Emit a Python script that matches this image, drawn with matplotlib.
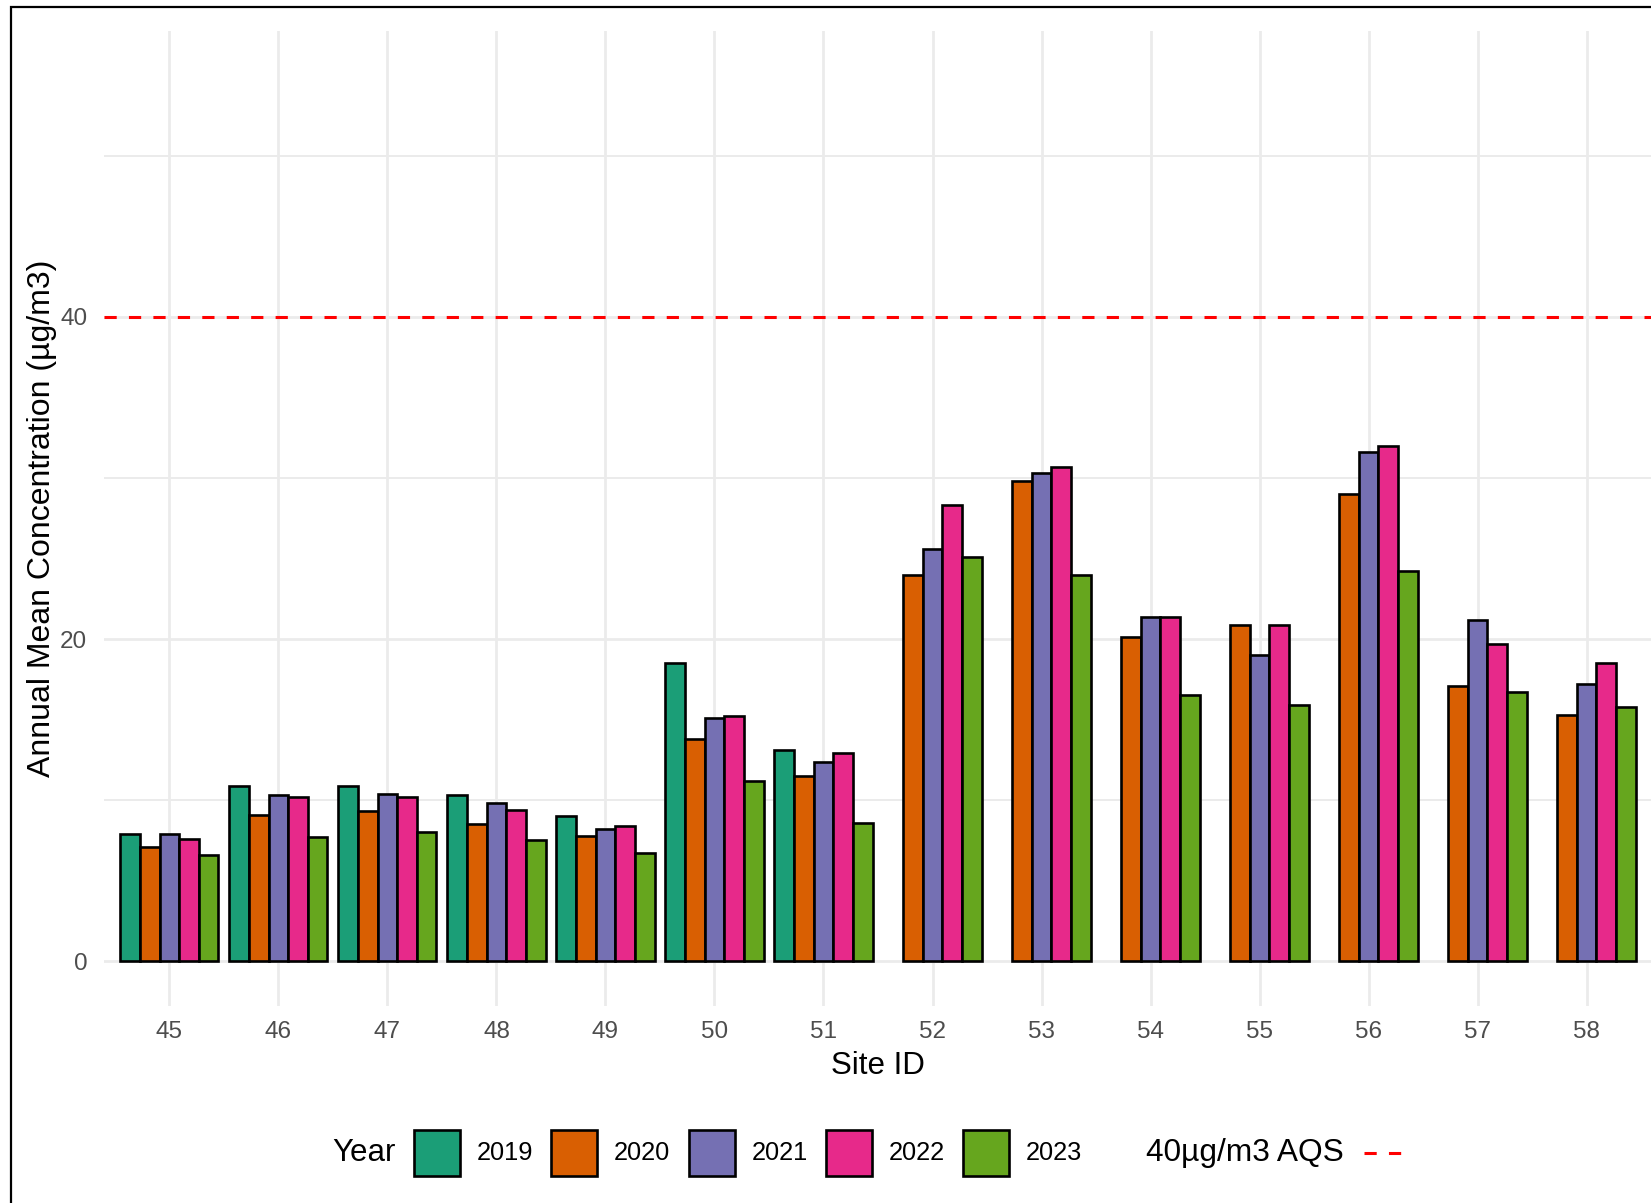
import numpy as np
import matplotlib
matplotlib.use("Agg")
import matplotlib.pyplot as plt
from matplotlib.patches import Rectangle
from matplotlib.lines import Line2D

plt.rcParams['font.family'] = ['Liberation Sans', 'DejaVu Sans']

# data
sites = ['45', '46', '47', '48', '49', '50', '51', '52', '53', '54', '55', '56', '57', '58']
years = ['2019', '2020', '2021', '2022', '2023']
nan = np.nan
v2019 = [7.9, 10.9, 10.9, 10.3, 9.0, 18.5, 13.1, nan, nan, nan, nan, nan, nan, nan]
v2020 = [7.1, 9.1, 9.3, 8.5, 7.8, 13.8, 11.5, 24.0, 29.8, 20.1, 20.9, 29.0, 17.1, 15.3]
v2021 = [7.9, 10.3, 10.4, 9.8, 8.2, 15.1, 12.4, 25.6, 30.3, 21.4, 19.0, 31.6, 21.2, 17.2]
v2022 = [7.6, 10.2, 10.2, 9.4, 8.4, 15.2, 12.9, 28.3, 30.7, 21.4, 20.9, 32.0, 19.7, 18.5]
v2023 = [6.6, 7.7, 8.0, 7.5, 6.7, 11.2, 8.6, 25.1, 24.0, 16.5, 15.9, 24.2, 16.7, 15.8]
aqs = 40

colors = ['#1B9E77', '#D95F02', '#7570B3', '#E7298A', '#66A61E']
series = [v2019, v2020, v2021, v2022, v2023]

W, H = 1651, 1203
fig = plt.figure(figsize=(W / 100, H / 100), dpi=100)
ax = fig.add_axes([104 / W, 1 - 1005.6 / H, (1652 - 104) / W, (1005.6 - 30.9) / H])

x = np.arange(len(sites))
bw = 0.18
for i, (vals, c) in enumerate(zip(series, colors)):
    ax.bar(x + (i - 2) * bw, vals, width=bw, color=c, edgecolor='black',
           linewidth=1.9, zorder=3)

ax.axhline(aqs, color='#FF0000', linewidth=2.2, linestyle=(0, (4, 4)), zorder=4)

ax.set_xlim(-0.6, len(sites) - 0.4)
ax.set_ylim(-2.75, 57.75)
ax.set_xticks(x)
ax.set_xticklabels(sites)
ax.set_yticks([0, 20, 40])
ax.set_yticks([10, 30, 50], minor=True)
ax.grid(which='major', color='#EBEBEB', linewidth=2.0, zorder=0)
ax.grid(which='minor', axis='y', color='#EBEBEB', linewidth=1.4, zorder=0)
ax.set_axisbelow(True)
for s in ax.spines.values():
    s.set_visible(False)
ax.tick_params(which='both', length=0, labelsize=17.5, labelcolor='#4D4D4D')
ax.tick_params(axis='x', pad=11)
ax.tick_params(axis='y', pad=12)
ax.set_xlabel('Site ID', fontsize=22.5, labelpad=6)
ax.set_ylabel('Annual Mean Concentration (µg/m3)', fontsize=23, labelpad=2)

# legend along the bottom
def fx(px):
    return px / W

def fy(py):
    return 1 - py / H

ly = 1153
fig.text(fx(332), fy(ly), 'Year', fontsize=22.5, va='center', ha='left')
box_x = [414, 551, 689, 826, 963]
for bx, c, yr in zip(box_x, colors, years):
    fig.patches.append(Rectangle((fx(bx), fy(ly + 23)), fx(46), 46 / H,
                                 transform=fig.transFigure, facecolor=c,
                                 edgecolor='black', linewidth=1.9))
    fig.text(fx(bx + 63), fy(ly), yr, fontsize=18.3, va='center', ha='left')
fig.text(fx(1146), fy(ly), '40µg/m3 AQS', fontsize=22.8, va='center', ha='left')
fig.lines.append(Line2D([fx(1364), fx(1401)], [fy(ly), fy(ly)], transform=fig.transFigure,
                        color='#FF0000', linewidth=2.2, linestyle=(0, (4, 4))))

# outer frame (cropped at right and bottom)
fig.patches.append(Rectangle((fx(11), -0.05), 1.2, 1.05 - 7 / H, transform=fig.transFigure,
                             fill=False, edgecolor='black', linewidth=1.6))

fig.savefig('out.png', dpi=100)
